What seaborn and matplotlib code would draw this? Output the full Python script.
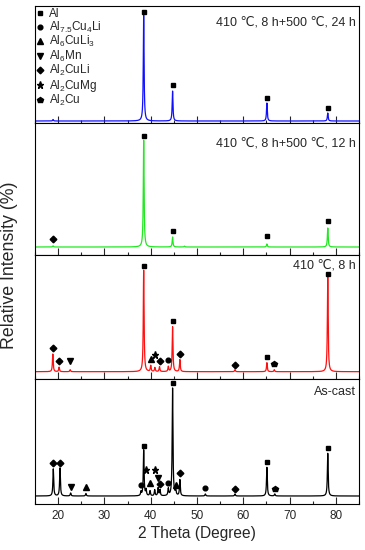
import numpy as np
import pandas as pd
import matplotlib
matplotlib.use("Agg")
import matplotlib.pyplot as plt
from matplotlib.lines import Line2D
from matplotlib.ticker import MultipleLocator
import seaborn as sns

# ---------------- data ----------------
panel_labels = ["410 \u2103, 8 h+500 \u2103, 24 h",
                "410 \u2103, 8 h+500 \u2103, 12 h",
                "410 \u2103, 8 h",
                "As-cast"]
panel_colors = ["#1010ff", "#22e822", "#ff1010", "#000000"]

# peak positions (2 theta) and heights (relative units) for each pattern
peaks_24h_pos = [18.9, 38.48, 44.72, 65.10, 78.25]
peaks_24h_int = [1.5, 106, 30, 18, 8]

peaks_12h_pos = [18.9, 38.48, 44.72, 47.3, 65.10, 78.25]
peaks_12h_int = [1.2, 107, 10, 0.8, 3, 19]

peaks_8h_pos = [18.85, 20.2, 22.6, 38.48, 40.0, 40.9, 41.9, 43.8, 44.72, 46.3, 58.2, 65.10, 66.7, 78.25]
peaks_8h_int = [17.7, 4.5, 2.0, 101.7, 6, 4, 5, 5, 45, 12, 2, 9, 2, 95.7]

peaks_cast_pos = [18.95, 20.4, 22.7, 26.0, 37.9, 38.48, 39.0, 39.85, 40.86, 41.6, 42.0, 43.8, 44.72,
                  45.4, 46.3, 51.8, 58.2, 65.10, 66.8, 78.25]
peaks_cast_int = [27, 28, 3, 2.5, 4, 46, 6, 5, 6, 8, 6, 7, 108,
                  6, 16, 2, 2, 28.7, 2, 42.7]

# phase markers: (phase index, 2 theta, height)
phase_names = ["Al", "Al$_{7.5}$Cu$_4$Li", "Al$_6$CuLi$_3$", "Al$_6$Mn",
               "Al$_2$CuLi", "Al$_2$CuMg", "Al$_2$Cu"]
phase_symbols = ["s", "o", "^", "v", "D", "*", "p"]

marks_24h = [(0, 38.48, 109), (0, 44.72, 36), (0, 65.10, 23), (0, 78.25, 13.3)]
marks_12h = [(4, 18.9, 7.7), (0, 38.48, 111), (0, 44.72, 16), (0, 65.10, 10.7), (0, 78.25, 26)]
marks_8h = [(4, 18.85, 24), (4, 20.2, 11), (3, 22.6, 10.4), (0, 38.48, 105.4), (2, 40.0, 12.4),
            (5, 40.9, 17), (4, 41.9, 11), (1, 43.8, 11.7), (0, 44.72, 51), (4, 46.3, 18),
            (4, 58.2, 7), (0, 65.10, 14.7), (6, 66.7, 7.4), (0, 78.25, 97.4)]
marks_cast = [(4, 18.95, 32.7), (4, 20.4, 32.7), (3, 22.7, 9.3), (2, 26.0, 9.3), (1, 37.9, 11),
              (0, 38.48, 50), (5, 39.0, 26), (2, 39.85, 12.7), (5, 40.86, 26), (3, 41.6, 17.7),
              (4, 42.0, 12), (1, 43.8, 12.7), (0, 44.72, 112.7), (2, 45.4, 11), (4, 46.3, 22.7),
              (1, 51.8, 7.7), (4, 58.2, 6.7), (0, 65.10, 34.3), (6, 66.8, 7.3), (0, 78.25, 48.3)]

x_ticks = [20, 30, 40, 50, 60, 70, 80]

patterns = [(peaks_24h_pos, peaks_24h_int, marks_24h),
            (peaks_12h_pos, peaks_12h_int, marks_12h),
            (peaks_8h_pos, peaks_8h_int, marks_8h),
            (peaks_cast_pos, peaks_cast_int, marks_cast)]

# ---------------- style ----------------
sns.set_style("ticks")
plt.rcParams["font.family"] = ["Liberation Sans", "DejaVu Sans"]
plt.rcParams["mathtext.fontset"] = "custom"
plt.rcParams["mathtext.rm"] = "Liberation Sans"
plt.rcParams["mathtext.it"] = "Liberation Sans"
plt.rcParams["mathtext.default"] = "regular"

MS = {"s": 3.4, "o": 3.4, "^": 4.0, "v": 4.0, "D": 3.4, "*": 5.2, "p": 4.0}

W, H = 365, 550
fig = plt.figure(figsize=(W / 100, H / 100), dpi=100)
gs = fig.add_gridspec(4, 1, height_ratios=[117, 132, 124, 125], hspace=0,
                      left=35 / W, right=359 / W, top=1 - 6 / H, bottom=1 - 504 / H)
ylims = [(-2, 115), (-8, 124), (-7.3, 116.7), (-8, 117)]

two_theta = np.linspace(15, 85, 5601)
gamma = 0.1

axes = []
for i, (pos, inten, marks) in enumerate(patterns):
    ax = fig.add_subplot(gs[i])
    axes.append(ax)
    prof = np.zeros_like(two_theta)
    for p, h in zip(pos, inten):
        prof += h / (1 + ((two_theta - p) / gamma) ** 2)
    df = pd.DataFrame({"2theta": two_theta, "I": prof})
    sns.lineplot(data=df, x="2theta", y="I", ax=ax, color=panel_colors[i], lw=0.9)
    for ph, xx, yy in marks:
        sym = phase_symbols[ph]
        ax.plot([xx], [yy], marker=sym, color="black", ms=MS[sym], ls="none")
    ax.set_xlim(15, 85)
    ax.set_ylim(*ylims[i])
    ax.set_yticks([])
    ax.set_ylabel("")
    ax.xaxis.set_major_locator(MultipleLocator(10))
    ax.xaxis.set_minor_locator(MultipleLocator(5))
    ax.set_xticks(x_ticks)
    ax.tick_params(axis="x", which="major", direction="in", length=5, width=0.8,
                   top=False, labelsize=8.5, pad=4)
    ax.tick_params(axis="x", which="minor", direction="in", length=2.5, width=0.8, top=False)
    for s in ax.spines.values():
        s.set_linewidth(0.8)
        s.set_color("black")
    if i < 3:
        ax.tick_params(axis="x", labelbottom=False)
        ax.set_xlabel("")
    else:
        ax.set_xlabel("2 Theta (Degree)", fontsize=11.2, labelpad=3)

# panel titles
title_offsets = [16.5, 21, 11, 13]
for ax, lab, off in zip(axes, panel_labels, title_offsets):
    ax.annotate(lab, xy=(1, 1), xycoords="axes fraction",
                xytext=(-3 * 0.72, -off * 0.72), textcoords="offset points",
                ha="right", va="center", fontsize=9)

# legend in top panel
handles = [Line2D([], [], marker=s, color="black", ls="none", ms=MS[s]) for s in phase_symbols]
axes[0].legend(handles, phase_names, loc="upper left", frameon=False, fontsize=8.5,
               handlelength=0.5, handletextpad=0.45, labelspacing=-0.05,
               borderaxespad=0.0, borderpad=0.2, bbox_to_anchor=(0.0, 1.0))

fig.text(10 / W, 1 - 265 / H, "Relative Intensity (%)", rotation=90,
         ha="center", va="center", fontsize=12.8)

fig.savefig("out.png", dpi=100)
